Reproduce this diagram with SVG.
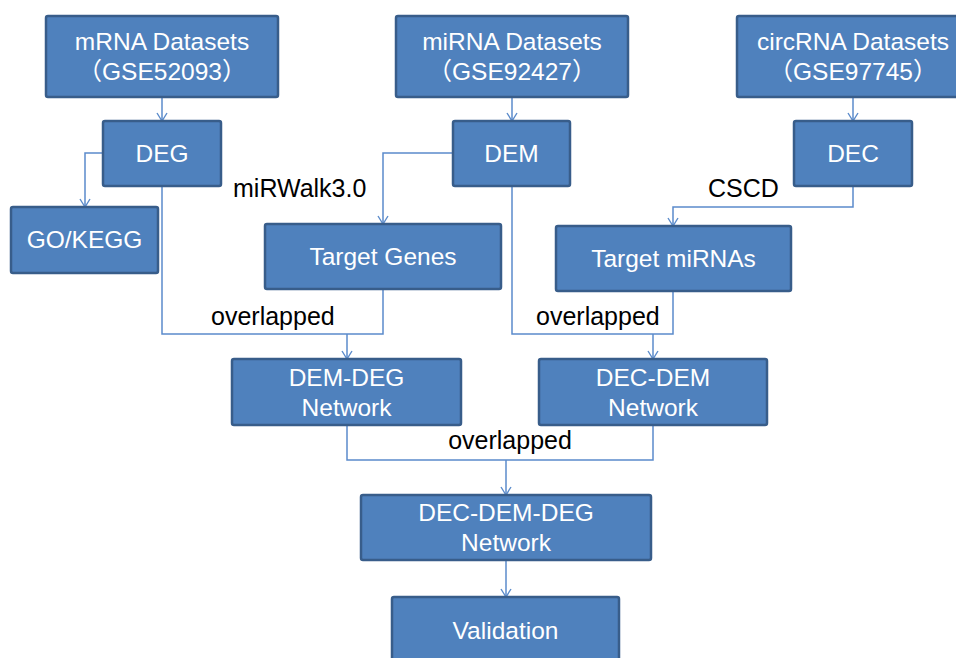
<svg xmlns="http://www.w3.org/2000/svg" width="956" height="658" viewBox="0 0 956 658">
  <style>
    .box { fill: #4F81BD; stroke: #385D8A; stroke-width: 2.5; }
    .bt { fill: #FFFFFF; font-family: "Liberation Sans", Arial, "Noto Sans CJK SC", sans-serif; font-size: 24.5px; text-anchor: middle; }
    .cjk { font-family: "Noto Sans CJK SC", sans-serif; }
    .lbl { fill: #000000; font-family: "Liberation Sans", Arial, sans-serif; font-size: 25px; }
    .conn { fill: none; stroke: #5B8BCB; stroke-width: 1.5; }
  </style>
  <defs>
    <marker id="arrow" viewBox="-6 -9 12 10" refX="0" refY="0" markerWidth="12" markerHeight="10" markerUnits="userSpaceOnUse" orient="0">
      <path d="M-5,-8 L0,0 L5,-8" fill="none" stroke="#5B8BCB" stroke-width="1.4"/>
    </marker>
  </defs>
  <rect width="956" height="658" fill="#FFFFFF"/>

  <!-- connectors -->
  <g id="connectors" class="conn">
    <path d="M162,97 V121" marker-end="url(#arrow)"/>
    <path d="M512,97 V121" marker-end="url(#arrow)"/>
    <path d="M853,97 V121" marker-end="url(#arrow)"/>
    <path d="M103,153 H85 V207" marker-end="url(#arrow)"/>
    <path d="M453,153 H383 V224" marker-end="url(#arrow)"/>
    <path d="M853,186 V207 H673 V226" marker-end="url(#arrow)"/>
    <path d="M162,186 V334 H383 V289"/>
    <path d="M347,334 V359" marker-end="url(#arrow)"/>
    <path d="M512,186 V334 H673 V291"/>
    <path d="M653,334 V359" marker-end="url(#arrow)"/>
    <path d="M347,425 V460 H653 V425"/>
    <path d="M506,460 V495" marker-end="url(#arrow)"/>
    <path d="M506,560 V597" marker-end="url(#arrow)"/>
  </g>

  <!-- connector labels -->
  <g id="labels" class="lbl">
    <text x="233" y="197">miRWalk3.0</text>
    <text x="708" y="197">CSCD</text>
    <text x="211" y="325">overlapped</text>
    <text x="536" y="325">overlapped</text>
    <text x="510" y="449" text-anchor="middle">overlapped</text>
  </g>

  <!-- nodes -->
  <g id="mrna-datasets">
    <rect class="box" x="46" y="16" width="232" height="81" rx="2"/>
    <text class="bt" x="162" y="50">mRNA Datasets</text>
    <text class="bt" x="162" y="80"><tspan class="cjk">（</tspan>GSE52093<tspan class="cjk">）</tspan></text>
  </g>
  <g id="mirna-datasets">
    <rect class="box" x="396" y="16" width="232" height="81" rx="2"/>
    <text class="bt" x="512" y="50">miRNA Datasets</text>
    <text class="bt" x="512" y="80"><tspan class="cjk">（</tspan>GSE92427<tspan class="cjk">）</tspan></text>
  </g>
  <g id="circrna-datasets">
    <rect class="box" x="737" y="16" width="232" height="81" rx="2"/>
    <text class="bt" x="853" y="50">circRNA Datasets</text>
    <text class="bt" x="853" y="80"><tspan class="cjk">（</tspan>GSE97745<tspan class="cjk">）</tspan></text>
  </g>
  <g id="deg">
    <rect class="box" x="103" y="121" width="118" height="65" rx="2"/>
    <text class="bt" x="162" y="162">DEG</text>
  </g>
  <g id="dem">
    <rect class="box" x="453" y="121" width="117" height="65" rx="2"/>
    <text class="bt" x="511.5" y="162">DEM</text>
  </g>
  <g id="dec">
    <rect class="box" x="794" y="121" width="118" height="65" rx="2"/>
    <text class="bt" x="853" y="162">DEC</text>
  </g>
  <g id="go-kegg">
    <rect class="box" x="11" y="207" width="147" height="66" rx="2"/>
    <text class="bt" x="84.5" y="248">GO/KEGG</text>
  </g>
  <g id="target-genes">
    <rect class="box" x="265" y="224" width="236" height="65" rx="2"/>
    <text class="bt" x="383" y="265">Target Genes</text>
  </g>
  <g id="target-mirnas">
    <rect class="box" x="556" y="226" width="235" height="65" rx="2"/>
    <text class="bt" x="673.5" y="267">Target miRNAs</text>
  </g>
  <g id="dem-deg-network">
    <rect class="box" x="232" y="359" width="229" height="66" rx="2"/>
    <text class="bt" x="346.5" y="386">DEM-DEG</text>
    <text class="bt" x="346.5" y="416">Network</text>
  </g>
  <g id="dec-dem-network">
    <rect class="box" x="539" y="359" width="228" height="66" rx="2"/>
    <text class="bt" x="653" y="386">DEC-DEM</text>
    <text class="bt" x="653" y="416">Network</text>
  </g>
  <g id="dec-dem-deg-network">
    <rect class="box" x="361" y="495" width="290" height="65" rx="2"/>
    <text class="bt" x="506" y="521">DEC-DEM-DEG</text>
    <text class="bt" x="506" y="551">Network</text>
  </g>
  <g id="validation">
    <rect class="box" x="392" y="597" width="227" height="66" rx="2"/>
    <text class="bt" x="505.5" y="639">Validation</text>
  </g>
</svg>
